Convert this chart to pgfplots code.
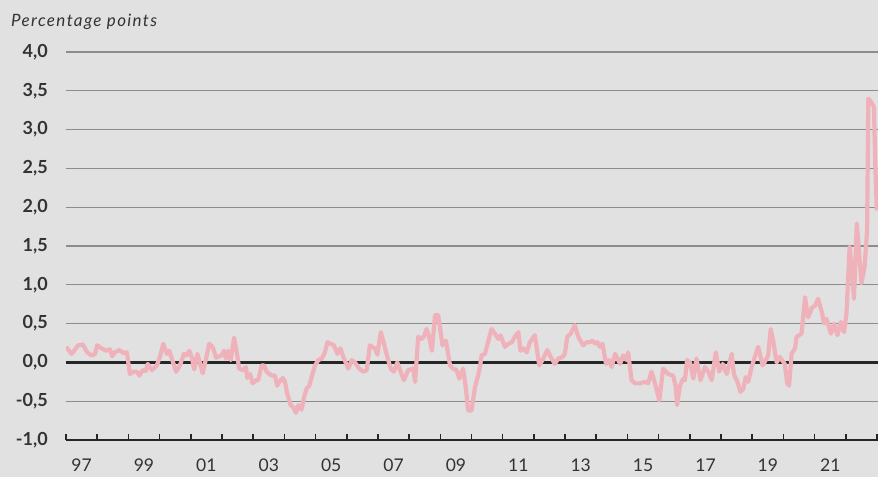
\documentclass[border=0pt]{standalone}
\usepackage{pgfplots}
\pgfplotsset{compat=1.18}
\usepackage{fontspec}
\setmainfont{Lato}
\definecolor{bgc}{RGB}{225,225,225}
\definecolor{gridc}{RGB}{140,140,140}
\definecolor{pinkc}{RGB}{240,178,186}
\definecolor{txtc}{RGB}{51,51,51}
\definecolor{axc}{RGB}{38,38,38}
\begin{document}
\begin{tikzpicture}
\path[use as bounding box, fill=bgc] (-66pt,-37pt) rectangle (812pt,440pt);
\begin{axis}[
  at={(0,0)}, anchor=south west,
  scale only axis, width=812pt, height=388pt,
  xmin=1997, xmax=2023.03, ymin=-1, ymax=4,
  axis x line*=bottom, axis y line*=left,
  y axis line style={draw=none},
  x axis line style={line width=2.6pt, color=axc},
  ytick={-1,-0.5,...,4},
  yticklabels={{-1,0},{-0,5},{0,0},{0,5},{1,0},{1,5},{2,0},{2,5},{3,0},{3,5},{4,0}},
  ytick style={draw=none},
  yticklabel style={font=\fontsize{18}{20}\selectfont\bfseries, text=txtc, anchor=east, inner sep=0pt, xshift=-18pt},
  ymajorgrids, grid style={gridc, line width=1.1pt},
  xtick={1997,...,2023}, xticklabels={},
  tick align=inside, major tick length=6pt,
  xtick style={line width=1.6pt, color=axc},
  extra x ticks={1997.5,1999.5,2001.5,2003.5,2005.5,2007.5,2009.5,2011.5,2013.5,2015.5,2017.5,2019.5,2021.5},
  extra x tick labels={97,99,01,03,05,07,09,11,13,15,17,19,21},
  extra x tick style={major tick length=0pt, grid=none, xticklabel style={font=\fontsize{17.5}{19}\selectfont, text=txtc, inner sep=0pt, yshift=-19pt}},
  extra y ticks={0}, extra y tick labels={},
  extra y tick style={grid style={axc, line width=2.6pt}},
  clip=true,
]
\addplot[pinkc, line width=4.2pt, line join=round] coordinates {
(1997.00,0.20) (1997.18,0.11) (1997.39,0.22) (1997.54,0.23) (1997.68,0.13) (1997.82,0.09) (1997.93,0.11)
(1998.00,0.22) (1998.14,0.18) (1998.30,0.15) (1998.41,0.17) (1998.48,0.08) (1998.57,0.13) (1998.71,0.16) (1998.84,0.12) (1998.95,0.13)
(1999.05,-0.15) (1999.16,-0.12) (1999.27,-0.12) (1999.35,-0.17) (1999.46,-0.10) (1999.56,-0.11) (1999.62,-0.02) (1999.75,-0.10) (1999.91,-0.04)
(2000.01,0.07) (2000.12,0.24) (2000.23,0.11) (2000.31,0.15) (2000.39,0.05) (2000.53,-0.12) (2000.65,-0.04) (2000.78,0.11) (2000.87,0.09) (2000.95,0.15)
(2001.03,0.07) (2001.11,-0.09) (2001.21,0.11) (2001.29,0.00) (2001.38,-0.14) (2001.49,0.05) (2001.59,0.24) (2001.70,0.20) (2001.81,0.06) (2001.99,0.09)
(2002.06,0.15) (2002.13,0.05) (2002.20,0.15) (2002.28,0.03) (2002.39,0.32) (2002.49,0.09) (2002.55,-0.08) (2002.68,-0.10) (2002.77,-0.06) (2002.81,-0.20) (2002.90,-0.15) (2002.98,-0.27)
(2003.09,-0.23) (2003.16,-0.23) (2003.27,-0.04) (2003.35,-0.04) (2003.43,-0.12) (2003.59,-0.17) (2003.70,-0.17) (2003.77,-0.30) (2003.84,-0.25) (2003.95,-0.20)
(2004.02,-0.25) (2004.09,-0.40) (2004.20,-0.55) (2004.29,-0.58) (2004.37,-0.65) (2004.45,-0.55) (2004.55,-0.61) (2004.63,-0.45) (2004.71,-0.34) (2004.80,-0.30) (2004.88,-0.18) (2004.98,-0.04)
(2005.09,0.03) (2005.20,0.05) (2005.30,0.13) (2005.38,0.26) (2005.48,0.24) (2005.59,0.22) (2005.70,0.11) (2005.80,0.18) (2005.89,0.07)
(2006.05,-0.08) (2006.16,0.03) (2006.26,0.00) (2006.40,-0.08) (2006.53,-0.12) (2006.64,-0.10) (2006.74,0.22) (2006.90,0.18) (2006.98,0.10)
(2007.09,0.39) (2007.17,0.28) (2007.30,0.07) (2007.41,-0.08) (2007.51,-0.12) (2007.62,0.00) (2007.71,-0.10) (2007.83,-0.23) (2007.97,-0.10)
(2008.13,-0.08) (2008.19,-0.25) (2008.29,0.33) (2008.40,0.30) (2008.47,0.33) (2008.56,0.43) (2008.64,0.33) (2008.73,0.15) (2008.83,0.61) (2008.93,0.61)
(2009.07,0.22) (2009.18,0.28) (2009.31,-0.04) (2009.41,-0.08) (2009.52,-0.10) (2009.61,-0.21) (2009.73,-0.08) (2009.82,-0.34) (2009.89,-0.62)
(2010.00,-0.62) (2010.11,-0.32) (2010.21,-0.17) (2010.27,-0.06) (2010.32,0.09) (2010.43,0.11) (2010.54,0.28) (2010.64,0.43) (2010.75,0.37) (2010.86,0.30) (2010.93,0.35)
(2011.07,0.20) (2011.18,0.24) (2011.29,0.26) (2011.39,0.33) (2011.50,0.39) (2011.57,0.15) (2011.66,0.18) (2011.77,0.13) (2011.87,0.26)
(2012.03,0.35) (2012.17,-0.04) (2012.30,0.05) (2012.43,0.16) (2012.54,0.07) (2012.67,-0.02) (2012.78,0.05) (2012.92,0.07) (2012.99,0.11)
(2013.07,0.33) (2013.18,0.37) (2013.31,0.48) (2013.42,0.33) (2013.58,0.22) (2013.69,0.26) (2013.79,0.26) (2013.88,0.28) (2013.96,0.24)
(2014.03,0.26) (2014.12,0.20) (2014.20,0.24) (2014.31,-0.02) (2014.41,0.03) (2014.49,-0.06) (2014.60,0.11) (2014.68,0.05) (2014.76,-0.02) (2014.86,0.09) (2014.97,0.03)
(2015.02,0.13) (2015.13,-0.23) (2015.24,-0.27) (2015.40,-0.27) (2015.56,-0.25) (2015.66,-0.27) (2015.77,-0.12) (2015.88,-0.27)
(2016.02,-0.49) (2016.14,-0.08) (2016.30,-0.15) (2016.46,-0.17) (2016.55,-0.32) (2016.59,-0.55) (2016.68,-0.30) (2016.79,-0.21) (2016.84,-0.23) (2016.91,0.03)
(2017.00,0.00) (2017.11,-0.21) (2017.21,0.05) (2017.34,-0.23) (2017.48,-0.06) (2017.59,-0.12) (2017.70,-0.23) (2017.83,0.13) (2017.94,-0.12)
(2018.05,-0.02) (2018.18,-0.15) (2018.26,-0.02) (2018.34,0.11) (2018.41,-0.15) (2018.52,-0.25) (2018.62,-0.38) (2018.71,-0.34) (2018.79,-0.19) (2018.87,-0.25) (2018.98,-0.06)
(2019.08,0.07) (2019.19,0.20) (2019.33,-0.04) (2019.46,0.05) (2019.51,0.09) (2019.59,0.43) (2019.67,0.28) (2019.78,0.00) (2019.88,0.07)
(2020.04,-0.02) (2020.12,-0.27) (2020.18,-0.30) (2020.26,0.11) (2020.37,0.18) (2020.42,0.33) (2020.58,0.37) (2020.69,0.84) (2020.79,0.58) (2020.92,0.71)
(2021.01,0.73) (2021.11,0.82) (2021.24,0.63) (2021.30,0.50) (2021.38,0.56) (2021.52,0.37) (2021.62,0.50) (2021.73,0.35) (2021.84,0.52) (2021.94,0.39)
(2022.02,0.63) (2022.12,1.49) (2022.20,1.14) (2022.26,0.82) (2022.35,1.79) (2022.50,1.02) (2022.60,1.23) (2022.68,1.70) (2022.72,3.40) (2022.82,3.35) (2022.90,3.29) (2022.94,2.60) (2022.99,1.96)
};
\end{axis}
\node[anchor=base west, inner sep=0pt, text=txtc, font=\fontsize{17}{19}\selectfont\itshape\addfontfeatures{LetterSpace=8}] at (-55pt,413pt) {Percentage points};
\end{tikzpicture}
\end{document}
